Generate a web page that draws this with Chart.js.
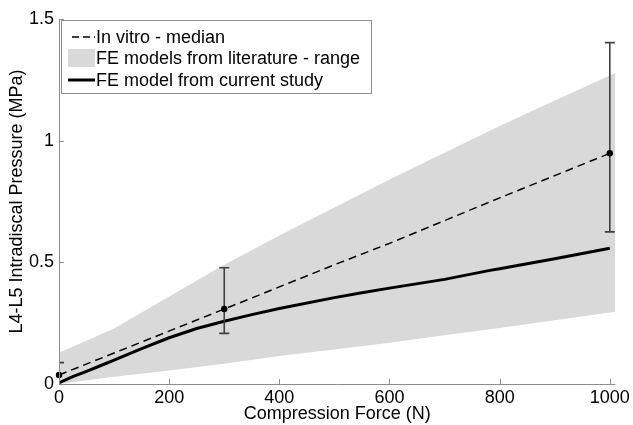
<!DOCTYPE html>
<html>
<head>
<meta charset="utf-8">
<script src="https://cdn.jsdelivr.net/npm/chart.js@4.4.1/dist/chart.umd.min.js"></script>
<style>
  html, body { margin: 0; padding: 0; background: #fff; }
  #wrap { width: 633px; height: 425px; }
</style>
</head>
<body>
<div id="wrap"><canvas id="pressureChart" width="633" height="425"></canvas></div>
<script>
// FE literature range (grey band)
const bandForce = [0, 100, 200, 300, 400, 500, 600, 700, 800, 900, 1010];
const bandUpper = [0.128, 0.228, 0.36, 0.49, 0.61, 0.725, 0.84, 0.95, 1.06, 1.165, 1.278];
const bandLower = [0.0, 0.03, 0.055, 0.083, 0.115, 0.142, 0.17, 0.2, 0.23, 0.262, 0.297];

// in vitro median (dashed)
const medianForce = [0, 300, 500, 600, 800, 1000];
const medianValue = [0.037, 0.308, 0.49, 0.578, 0.765, 0.948];

// in vitro points with error bars
const errForce = [0, 300, 1000];
const errMid = [0.037, 0.308, 0.948];
const errLow = [-0.014, 0.208, 0.625];
const errHigh = [0.088, 0.478, 1.403];

// FE model from current study (solid)
const studyForce = [0, 25, 50, 75, 100, 150, 200, 250, 300, 350, 400, 500, 550, 600, 700, 780, 800, 900, 1000];
const studyValue = [0.005, 0.03, 0.052, 0.075, 0.098, 0.145, 0.19, 0.228, 0.258, 0.285, 0.31, 0.355, 0.375, 0.394, 0.43, 0.466, 0.474, 0.515, 0.558];

const xTicks = [0, 200, 400, 600, 800, 1000];
const yTicks = [0, 0.5, 1, 1.5];

const legendLabels = [
  "In vitro - median",
  "FE models from literature - range",
  "FE model from current study"
];

const FONT = "Arial, 'Liberation Sans', Helvetica, sans-serif";
const BAND_COLOR = "#d9d9d9";
const AXIS_COLOR = "#8c8c8c";
const POINTS_INDEX = 4;

function pts(xs, ys) {
  return xs.map((x, i) => ({ x, y: ys[i] }));
}

const errorBarPlugin = {
  id: "errorBars",
  beforeDatasetDraw(chart, args) {
    if (args.index !== POINTS_INDEX) return;
    const { ctx, chartArea, scales } = chart;
    ctx.save();
    ctx.beginPath();
    ctx.rect(chartArea.left, chartArea.top - 30, chartArea.right - chartArea.left + 10, chartArea.bottom - chartArea.top + 30);
    ctx.clip();
    ctx.strokeStyle = "#404040";
    ctx.lineWidth = 1.6;
    errForce.forEach((f, i) => {
      const x = scales.x.getPixelForValue(f);
      const y1 = Math.min(scales.y.getPixelForValue(errLow[i]), chartArea.bottom);
      const y2 = scales.y.getPixelForValue(errHigh[i]);
      ctx.beginPath();
      ctx.moveTo(x, y1);
      ctx.lineTo(x, y2);
      if (errLow[i] >= 0) {
        ctx.moveTo(x - 5, y1);
        ctx.lineTo(x + 5, y1);
      }
      ctx.moveTo(x - 5, y2);
      ctx.lineTo(x + 5, y2);
      ctx.stroke();
    });
    ctx.restore();
  }
};

const axesPlugin = {
  id: "matlabAxes",
  afterDatasetsDraw(chart) {
    const { ctx, chartArea, scales } = chart;
    ctx.save();
    ctx.strokeStyle = AXIS_COLOR;
    ctx.lineWidth = 1;
    ctx.beginPath();
    ctx.moveTo(chartArea.left + 0.5, chartArea.top);
    ctx.lineTo(chartArea.left + 0.5, chartArea.bottom + 0.5);
    ctx.lineTo(chartArea.right, chartArea.bottom + 0.5);
    // inward ticks
    xTicks.forEach(v => {
      const x = Math.round(scales.x.getPixelForValue(v)) + 0.5;
      ctx.moveTo(x, chartArea.bottom);
      ctx.lineTo(x, chartArea.bottom - 5);
    });
    yTicks.forEach(v => {
      const y = Math.round(scales.y.getPixelForValue(v)) + 0.5;
      ctx.moveTo(chartArea.left, y);
      ctx.lineTo(chartArea.left + 5, y);
    });
    ctx.stroke();
    ctx.restore();
  }
};

const legendPlugin = {
  id: "boxLegend",
  afterDraw(chart) {
    const { ctx, chartArea } = chart;
    const left = chartArea.left + 2;
    const top = chartArea.top + 1;
    const w = 310, h = 73;
    ctx.save();
    ctx.fillStyle = "#fff";
    ctx.fillRect(left, top, w, h);
    ctx.strokeStyle = "#8c8c8c";
    ctx.lineWidth = 1;
    ctx.strokeRect(Math.round(left) + 0.5, Math.round(top) + 0.5, w, h);

    const rowY = [top + 17, top + 38, top + 60];
    const sx1 = left + 7, sx2 = left + 34, tx = left + 35;

    ctx.strokeStyle = "#000";
    ctx.lineWidth = 1.5;
    ctx.setLineDash([7, 4]);
    ctx.beginPath();
    ctx.moveTo(sx1 + 4, rowY[0]);
    ctx.lineTo(sx2, rowY[0]);
    ctx.stroke();
    ctx.setLineDash([]);

    ctx.fillStyle = BAND_COLOR;
    ctx.fillRect(sx1, rowY[1] - 9, sx2 - sx1, 18);

    ctx.lineWidth = 3;
    ctx.beginPath();
    ctx.moveTo(sx1, rowY[2]);
    ctx.lineTo(sx2, rowY[2]);
    ctx.stroke();

    ctx.fillStyle = "#000";
    ctx.font = "18px " + FONT;
    ctx.textBaseline = "middle";
    legendLabels.forEach((t, i) => ctx.fillText(t, tx, rowY[i] + 1));
    ctx.restore();
  }
};

new Chart(document.getElementById("pressureChart"), {
  type: "line",
  data: {
    datasets: [
      {
        label: "upper",
        data: pts(bandForce, bandUpper),
        borderWidth: 0,
        pointRadius: 0,
        backgroundColor: BAND_COLOR,
        fill: "+1",
        tension: 0,
        order: 5
      },
      {
        label: "lower",
        data: pts(bandForce, bandLower),
        borderWidth: 0,
        pointRadius: 0,
        fill: false,
        tension: 0,
        order: 4
      },
      {
        label: legendLabels[0],
        data: pts(medianForce, medianValue),
        borderColor: "#000",
        borderWidth: 1.5,
        borderDash: [8, 5],
        pointRadius: 0,
        fill: false,
        tension: 0,
        order: 3
      },
      {
        label: legendLabels[2],
        data: pts(studyForce, studyValue),
        borderColor: "#000",
        borderWidth: 3,
        pointRadius: 0,
        fill: false,
        tension: 0,
        borderJoinStyle: "round",
        order: 2
      },
      {
        label: "points",
        data: pts(errForce, errMid),
        showLine: false,
        pointRadius: 3.2,
        pointBackgroundColor: "#000",
        pointBorderWidth: 0,
        clip: false,
        order: 1
      }
    ]
  },
  plugins: [errorBarPlugin, axesPlugin, legendPlugin],
  options: {
    responsive: false,
    animation: false,
    events: [],
    layout: { padding: { top: 19, right: 17, left: 0, bottom: 0 } },
    plugins: { legend: { display: false }, tooltip: { enabled: false } },
    scales: {
      x: {
        type: "linear",
        min: 0,
        max: 1010,
        grid: { display: false, drawTicks: false },
        border: { display: false },
        afterBuildTicks: s => { s.ticks = xTicks.map(v => ({ value: v })); },
        afterFit: s => { s.height = 41; },
        ticks: { color: "#000", font: { family: FONT, size: 18 }, padding: 3, maxRotation: 0, callback: v => String(v) },
        title: { display: true, text: "Compression Force (N)", color: "#000", font: { family: FONT, size: 18 }, padding: { top: 0, bottom: 0 } }
      },
      y: {
        type: "linear",
        min: 0,
        max: 1.5,
        grid: { display: false, drawTicks: false },
        border: { display: false },
        afterBuildTicks: s => { s.ticks = yTicks.map(v => ({ value: v })); },
        afterFit: s => { s.width = 59; },
        ticks: { color: "#000", font: { family: FONT, size: 18 }, padding: 5, callback: v => String(v) },
        title: { display: true, text: "L4-L5 Intradiscal Pressure (MPa)", color: "#000", font: { family: FONT, size: 18 }, padding: { top: 6, bottom: 0 } }
      }
    }
  }
});
</script>
</body>
</html>
